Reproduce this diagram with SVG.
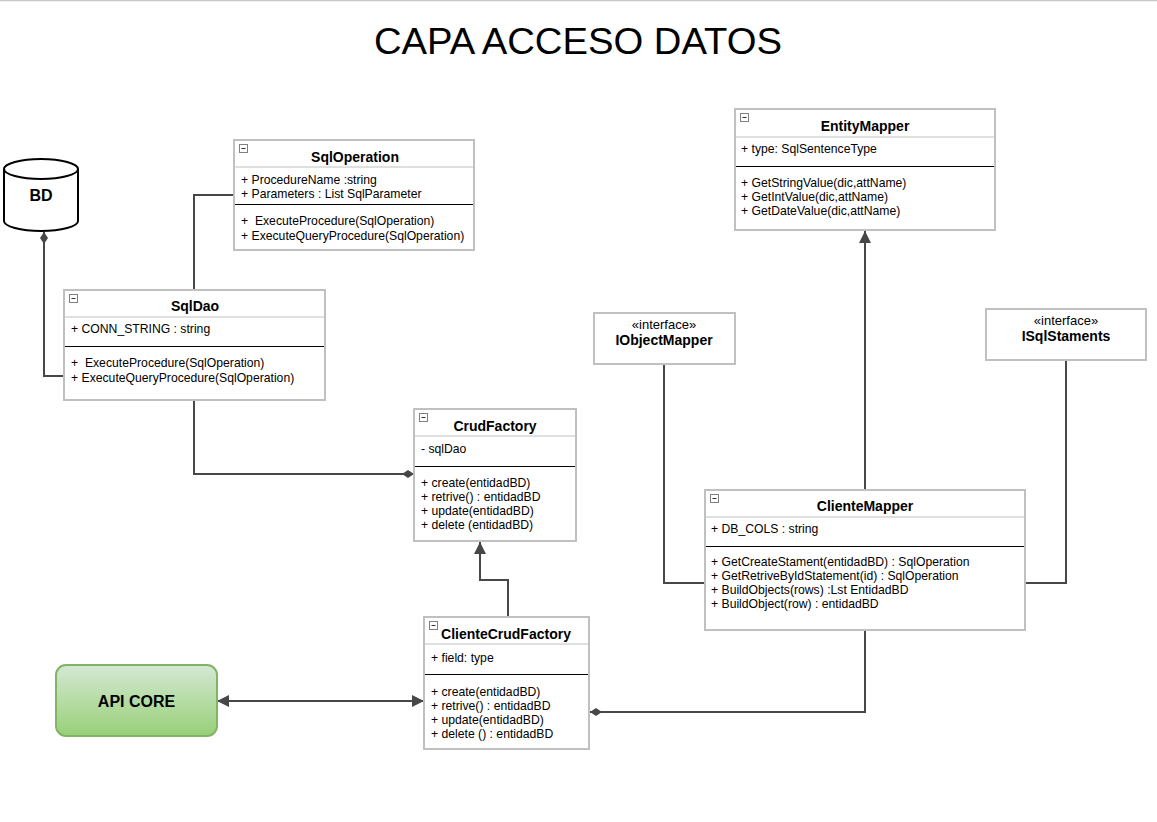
<svg xmlns="http://www.w3.org/2000/svg" width="1157" height="822" viewBox="0 0 1157 822">
<style>
text{font-family:"Liberation Sans",Arial,sans-serif;fill:#000}
.t{font-size:14px;font-weight:bold;text-anchor:middle}
.m{font-size:12.2px}
.st{font-size:13px;text-anchor:middle}
.box{fill:#fff;stroke:#c0c0c0;stroke-width:2}
.hd{stroke:#c0c0c0;stroke-width:1}
.dv{stroke:#000;stroke-width:1}
.ic{fill:#fff;stroke:#808080;stroke-width:1}
.icm{stroke:#333;stroke-width:1}
.c{fill:none;stroke:#474747;stroke-width:2}
</style>
<defs>
<marker id="arr" markerUnits="userSpaceOnUse" markerWidth="12" markerHeight="12" viewBox="0 0 10 10" refX="10" refY="5" orient="auto-start-reverse">
<path d="M0,0 L10,5 L0,10 z" fill="#474747"/>
</marker>
<marker id="dia" markerUnits="userSpaceOnUse" markerWidth="12" markerHeight="8" viewBox="0 0 12 8" refX="12" refY="4" orient="auto">
<path d="M0,4 L6,0 L12,4 L6,8 z" fill="#474747"/>
</marker>
<linearGradient id="g" x1="0" y1="0" x2="0" y2="1">
<stop offset="0" stop-color="#d5e8d4"/>
<stop offset="1" stop-color="#97d077"/>
</linearGradient>
</defs>
<line x1="0" y1="0.5" x2="1157" y2="0.5" stroke="#c8c8c8" stroke-width="1.5"/>
<text x="578" y="54" font-size="37.5" text-anchor="middle" textLength="408" lengthAdjust="spacingAndGlyphs">CAPA ACCESO DATOS</text>

<g id="connectors">
<path class="c" d="M194,290 V195 H234"/>
<path class="c" d="M64,376 H44 V232" marker-end="url(#dia)"/>
<path class="c" d="M194,400 V474 H414" marker-end="url(#dia)"/>
<path class="c" d="M508,617 V580 H480 V542" marker-end="url(#arr)"/>
<path class="c" d="M217,701 H424" marker-start="url(#arr)" marker-end="url(#arr)"/>
<path class="c" d="M865,630 V712 H590" marker-end="url(#dia)"/>
<path class="c" d="M865,490 V231" marker-end="url(#arr)"/>
<path class="c" d="M664,364 V583 H705"/>
<path class="c" d="M1066,360 V583 H1025"/>
</g>

<g id="BD">
<path d="M4,169 a37,10 0 0 1 74,0 v52 a37,10 0 0 1 -74,0 z" fill="#fff" stroke="#000" stroke-width="2"/>
<path d="M4,169 a37,10 0 0 0 74,0" fill="none" stroke="#000" stroke-width="2"/>
<text x="41" y="201" font-size="16" font-weight="bold" text-anchor="middle">BD</text>
</g>

<g id="SqlOperation">
<rect class="box" x="234" y="140" width="240" height="110"/>
<line class="hd" x1="235" y1="167" x2="473" y2="167"/>
<line class="dv" x1="235" y1="204.5" x2="473" y2="204.5"/>
<rect class="ic" x="239.5" y="144.5" width="8" height="8"/><line class="icm" x1="241.5" y1="148.5" x2="245.5" y2="148.5"/>
<text class="t" x="355" y="162">SqlOperation</text>
<text class="m" x="241" y="184">+ ProcedureName :string</text>
<text class="m" x="241" y="198">+ Parameters : List SqlParameter</text>
<text class="m" x="241" y="225" xml:space="preserve">+  ExecuteProcedure(SqlOperation)</text>
<text class="m" x="241" y="240">+ ExecuteQueryProcedure(SqlOperation)</text>
</g>

<g id="SqlDao">
<rect class="box" x="64" y="290" width="261" height="110"/>
<line class="hd" x1="65" y1="317" x2="324" y2="317"/>
<line class="dv" x1="65" y1="346.5" x2="324" y2="346.5"/>
<rect class="ic" x="69.5" y="294.5" width="8" height="8"/><line class="icm" x1="71.5" y1="298.5" x2="75.5" y2="298.5"/>
<text class="t" x="195" y="311">SqlDao</text>
<text class="m" x="71" y="333">+ CONN_STRING : string</text>
<text class="m" x="71" y="367" xml:space="preserve">+  ExecuteProcedure(SqlOperation)</text>
<text class="m" x="71" y="382">+ ExecuteQueryProcedure(SqlOperation)</text>
</g>

<g id="CrudFactory">
<rect class="box" x="414" y="409" width="162" height="132"/>
<line class="hd" x1="415" y1="436" x2="575" y2="436"/>
<line class="dv" x1="415" y1="466.5" x2="575" y2="466.5"/>
<rect class="ic" x="419.5" y="413.5" width="8" height="8"/><line class="icm" x1="421.5" y1="417.5" x2="425.5" y2="417.5"/>
<text class="t" x="495" y="431">CrudFactory</text>
<text class="m" x="421" y="453">- sqlDao</text>
<text class="m" x="421" y="487">+ create(entidadBD)</text>
<text class="m" x="421" y="501">+ retrive() : entidadBD</text>
<text class="m" x="421" y="515">+ update(entidadBD)</text>
<text class="m" x="421" y="529">+ delete (entidadBD)</text>
</g>

<g id="EntityMapper">
<rect class="box" x="735" y="109" width="260" height="121"/>
<line class="hd" x1="736" y1="137" x2="994" y2="137"/>
<line class="dv" x1="736" y1="166.5" x2="994" y2="166.5"/>
<rect class="ic" x="740.5" y="113.5" width="8" height="8"/><line class="icm" x1="742.5" y1="117.5" x2="746.5" y2="117.5"/>
<text class="t" x="865" y="131">EntityMapper</text>
<text class="m" x="741" y="153">+ type: SqlSentenceType</text>
<text class="m" x="741" y="187">+ GetStringValue(dic,attName)</text>
<text class="m" x="741" y="201">+ GetIntValue(dic,attName)</text>
<text class="m" x="741" y="215">+ GetDateValue(dic,attName)</text>
</g>

<g id="IObjectMapper">
<rect class="box" x="594" y="313" width="141" height="51"/>
<text class="st" x="664" y="329">«interface»</text>
<text class="t" x="664" y="345">IObjectMapper</text>
</g>

<g id="ISqlStaments">
<rect class="box" x="986" y="309" width="160" height="51"/>
<text class="st" x="1066" y="325">«interface»</text>
<text class="t" x="1066" y="341">ISqlStaments</text>
</g>

<g id="ClienteMapper">
<rect class="box" x="705" y="490" width="320" height="140"/>
<line class="hd" x1="706" y1="517" x2="1024" y2="517"/>
<line class="dv" x1="706" y1="546.5" x2="1024" y2="546.5" stroke="#555"/>
<rect class="ic" x="710.5" y="494.5" width="8" height="8"/><line class="icm" x1="712.5" y1="498.5" x2="716.5" y2="498.5"/>
<text class="t" x="865" y="511">ClienteMapper</text>
<text class="m" x="711" y="533">+ DB_COLS : string</text>
<text class="m" x="711" y="566">+ GetCreateStament(entidadBD) : SqlOperation</text>
<text class="m" x="711" y="580">+ GetRetriveByIdStatement(id) : SqlOperation</text>
<text class="m" x="711" y="594">+ BuildObjects(rows) :Lst EntidadBD</text>
<text class="m" x="711" y="608">+ BuildObject(row) : entidadBD</text>
</g>

<g id="ClienteCrudFactory">
<rect class="box" x="424" y="617" width="165" height="132"/>
<line class="hd" x1="425" y1="644" x2="588" y2="644"/>
<line class="dv" x1="425" y1="674.5" x2="588" y2="674.5"/>
<rect class="ic" x="429.5" y="621.5" width="8" height="8"/><line class="icm" x1="431.5" y1="625.5" x2="435.5" y2="625.5"/>
<text class="t" x="506" y="639">ClienteCrudFactory</text>
<text class="m" x="431" y="662">+ field: type</text>
<text class="m" x="431" y="696">+ create(entidadBD)</text>
<text class="m" x="431" y="710">+ retrive() : entidadBD</text>
<text class="m" x="431" y="724">+ update(entidadBD)</text>
<text class="m" x="431" y="738">+ delete () : entidadBD</text>
</g>

<g id="APICORE">
<rect x="56" y="665" width="161" height="71" rx="10" ry="10" fill="url(#g)" stroke="#82b366" stroke-width="2"/>
<text x="136.5" y="707" font-size="16" font-weight="bold" text-anchor="middle">API CORE</text>
</g>
</svg>
